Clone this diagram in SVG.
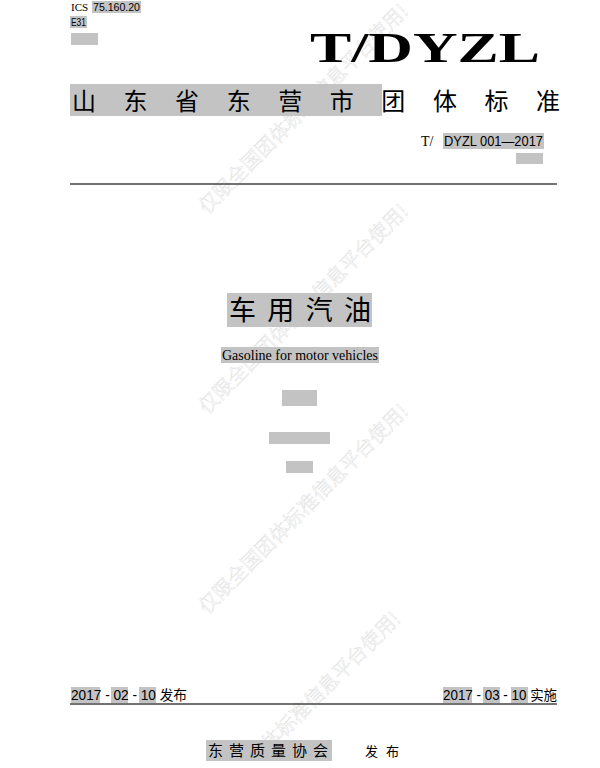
<svg xmlns="http://www.w3.org/2000/svg" width="600" height="768" viewBox="0 0 600 768">
<style>
.hl{fill:#c3c3c3}
.s{font-family:"Liberation Serif",serif;fill:#000}
.h{font-family:"Liberation Sans","Noto Sans CJK SC",sans-serif;fill:#000}
.wm{font-family:"Noto Serif CJK SC","Liberation Serif","Noto Sans CJK SC",serif;font-size:20px;fill:none;stroke:#e2e2e2;stroke-width:0.5}
</style>
<rect width="600" height="768" fill="#fff"/>
<g id="watermarks">
<text class="wm" transform="translate(207,215) rotate(-45)">仅限全国团体标准信息平台使用!</text>
<text class="wm" transform="translate(207,415) rotate(-45)">仅限全国团体标准信息平台使用!</text>
<text class="wm" transform="translate(207,615) rotate(-45)">仅限全国团体标准信息平台使用!</text>
<text class="wm" transform="translate(270,752) rotate(-45)">体标准信息平台使用!</text>
</g>
<g id="header">
<rect class="hl" x="92" y="1" width="49" height="12"/>
<text class="s" x="71" y="11" font-size="11">ICS</text>
<text class="h" x="93" y="11" font-size="11" textLength="47" lengthAdjust="spacingAndGlyphs">75.160.20</text>
<rect class="hl" x="70" y="16" width="17" height="12"/>
<text class="h" x="71" y="26" font-size="11" textLength="15" lengthAdjust="spacingAndGlyphs">E31</text>
<rect class="hl" x="71" y="33" width="27" height="12"/>
<text class="s" x="540" y="62" font-size="42" font-weight="bold" text-anchor="end" textLength="230" lengthAdjust="spacingAndGlyphs">T/DYZL</text>
<rect class="hl" x="70" y="84" width="312" height="32"/>
<text class="h" x="72" y="110" font-size="24" textLength="488" lengthAdjust="spacing">山东省东营市团体标准</text>
<text class="s" x="421" y="146" font-size="14">T/</text>
<rect class="hl" x="443" y="133" width="101" height="16"/>
<text class="h" x="444" y="146" font-size="14" textLength="99" lengthAdjust="spacingAndGlyphs">DYZL 001—2017</text>
<rect class="hl" x="516" y="153" width="27" height="11"/>
<line x1="70" y1="184" x2="557" y2="184" stroke="#444" stroke-width="1.5"/>
</g>
<g id="title">
<rect class="hl" x="227" y="293" width="145" height="34"/>
<text class="h" x="229" y="320" font-size="27" textLength="142" lengthAdjust="spacing">车用汽油</text>
<rect class="hl" x="221" y="347" width="158" height="16"/>
<text class="s" x="222" y="360" font-size="14" textLength="156" lengthAdjust="spacingAndGlyphs">Gasoline for motor vehicles</text>
<rect class="hl" x="282" y="390" width="35" height="16"/>
<rect class="hl" x="269" y="432" width="61" height="12"/>
<rect class="hl" x="286" y="461" width="27" height="12"/>
</g>
<g id="footer">
<rect class="hl" x="71" y="687" width="29" height="16"/>
<rect class="hl" x="111" y="687" width="17" height="16"/>
<rect class="hl" x="139" y="687" width="17" height="16"/>
<text class="h" x="71" y="700" font-size="14" textLength="116" lengthAdjust="spacingAndGlyphs">2017 - 02 - 10 发布</text>
<rect class="hl" x="443" y="687" width="29" height="16"/>
<rect class="hl" x="483" y="687" width="17" height="16"/>
<rect class="hl" x="511" y="687" width="17" height="16"/>
<text class="h" x="443" y="700" font-size="14" textLength="114" lengthAdjust="spacingAndGlyphs">2017 - 03 - 10 实施</text>
<line x1="70" y1="704" x2="557" y2="704" stroke="#444" stroke-width="1.5"/>
<rect class="hl" x="206" y="740" width="126" height="21"/>
<text class="h" x="208" y="756" font-size="15" textLength="120" lengthAdjust="spacing">东营质量协会</text>
<text class="h" x="365" y="756" font-size="13" textLength="34" lengthAdjust="spacing">发布</text>
</g>
</svg>
